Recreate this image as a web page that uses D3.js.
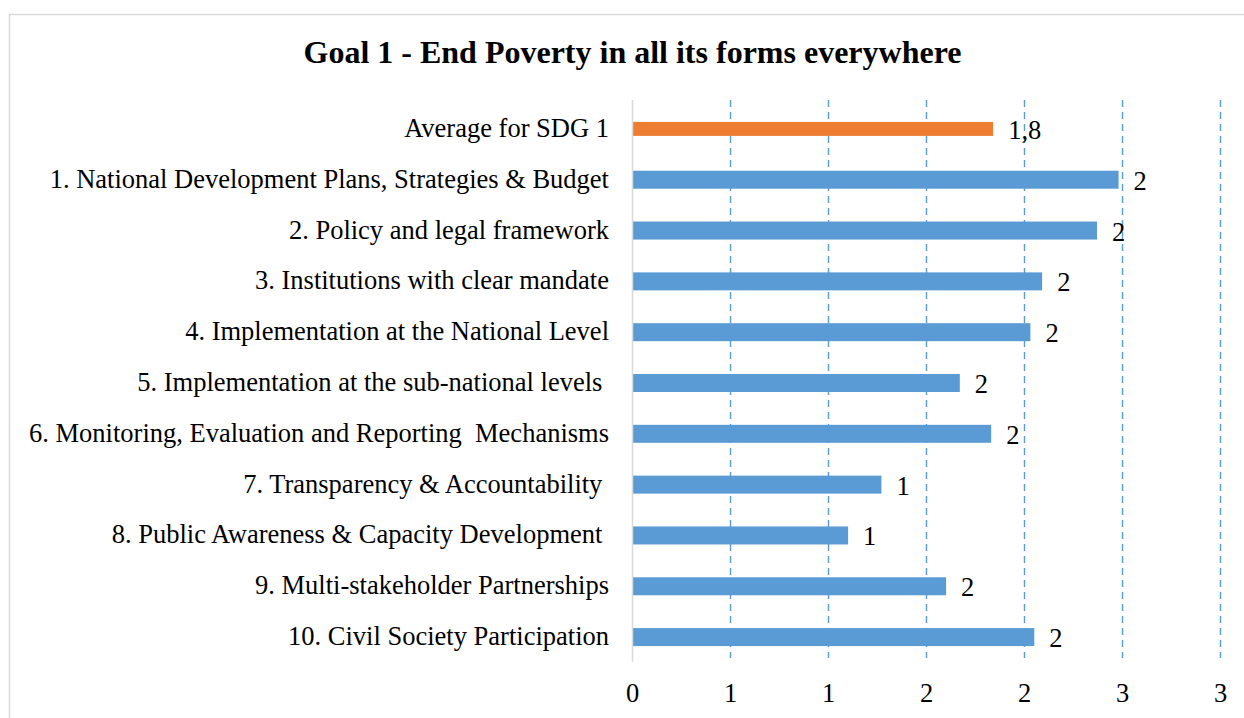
<!DOCTYPE html>
<html><head><meta charset="utf-8">
<script src="https://cdn.jsdelivr.net/npm/d3@7"></script>
<style>body{margin:0;background:#fff}svg{display:block}</style>
</head><body>
<svg id="c" width="1244" height="718"></svg>
<script>
const title = "Goal 1 - End Poverty in all its forms everywhere";
const categories = [
  "Average for SDG 1",
  "1. National Development Plans, Strategies & Budget",
  "2. Policy and legal framework",
  "3. Institutions with clear mandate",
  "4. Implementation at the National Level",
  "5. Implementation at the sub-national levels ",
  "6. Monitoring, Evaluation and Reporting  Mechanisms",
  "7. Transparency & Accountability ",
  "8. Public Awareness & Capacity Development ",
  "9. Multi-stakeholder Partnerships",
  "10. Civil Society Participation"
];
const values = [1.84, 2.48, 2.37, 2.09, 2.03, 1.67, 1.83, 1.27, 1.10, 1.60, 2.05];
const valueLabels = ["1,8", "2", "2", "2", "2", "2", "2", "1", "1", "2", "2"];
const tickValues = [0, 0.5, 1, 1.5, 2, 2.5, 3];
const tickLabels = ["0", "1", "1", "2", "2", "3", "3"];

const svg = d3.select("#c");
const font = "'Liberation Serif','Times New Roman',serif";

// chart border
svg.append("rect").attr("x", 9.5).attr("y", 14.5).attr("width", 1250).attr("height", 720)
  .attr("fill", "#fff").attr("stroke", "#d9d9d9").attr("stroke-width", 1.5);

svg.append("text").attr("x", 632.5).attr("y", 63).attr("text-anchor", "middle")
  .attr("font-family", font).attr("font-weight", "bold").attr("font-size", 32)
  .attr("fill", "#000").text(title);

const x = d3.scaleLinear().domain([0, 3]).range([632.5, 1220.5]);
const y = d3.scaleBand().domain(categories).range([103.5, 662.5]).paddingInner(0).paddingOuter(0);

// gridlines
svg.append("g").selectAll("line").data(tickValues.slice(1)).join("line")
  .attr("x1", d => x(d)).attr("x2", d => x(d))
  .attr("y1", 100).attr("y2", 658)
  .attr("stroke", "#5b9bd5").attr("stroke-width", 1.4).attr("stroke-dasharray", "7,5");

// bars
svg.append("g").selectAll("rect").data(categories).join("rect")
  .attr("x", x(0))
  .attr("y", (d, i) => y(d) + y.bandwidth() / 2 - (i === 0 ? 7 : 9))
  .attr("height", (d, i) => i === 0 ? 14 : 18)
  .attr("width", (d, i) => x(values[i]) - x(0))
  .attr("fill", (d, i) => i === 0 ? "#ed7d31" : "#5b9bd5");

// axis line
svg.append("line").attr("x1", x(0)).attr("x2", x(0)).attr("y1", 100).attr("y2", 662)
  .attr("stroke", "#d9d9d9").attr("stroke-width", 1.5);

// category labels
svg.append("g").selectAll("text").data(categories).join("text")
  .attr("x", 609).attr("y", d => y(d) + y.bandwidth() / 2 + 8)
  .attr("text-anchor", "end").attr("font-family", font).attr("font-size", 26.5)
  .attr("fill", "#000").style("white-space", "pre").text(d => d);

// value labels
svg.append("g").selectAll("text").data(categories).join("text")
  .attr("x", (d, i) => x(values[i]) + 15).attr("y", d => y(d) + y.bandwidth() / 2 + 10)
  .attr("font-family", font).attr("font-size", 26.5).attr("fill", "#000")
  .text((d, i) => valueLabels[i]);

// tick labels
svg.append("g").selectAll("text").data(tickValues).join("text")
  .attr("x", d => x(d)).attr("y", 702).attr("text-anchor", "middle")
  .attr("font-family", font).attr("font-size", 26.5).attr("fill", "#000")
  .text((d, i) => tickLabels[i]);
</script>
</body></html>
